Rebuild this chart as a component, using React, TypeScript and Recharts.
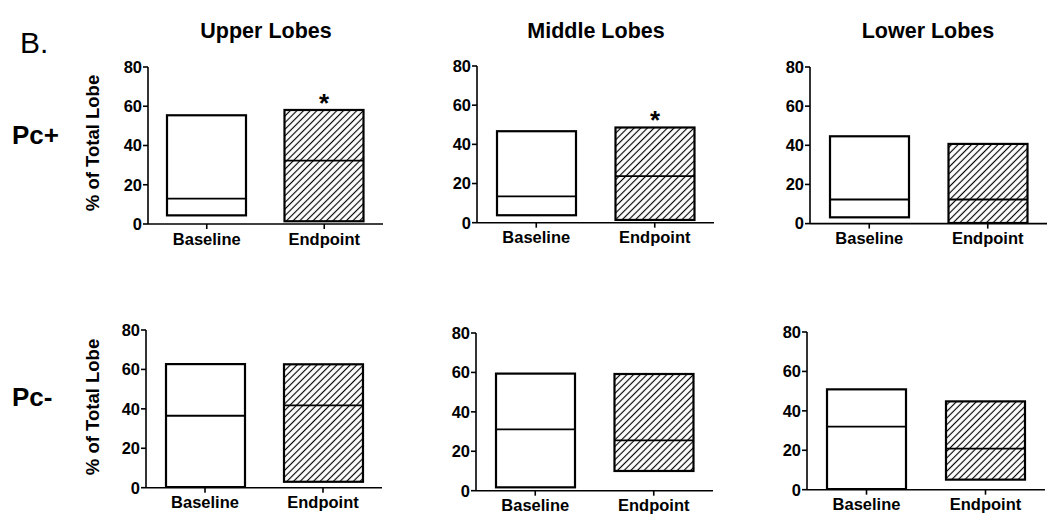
import React from 'react';
import { BarChart, Bar, XAxis, YAxis } from 'recharts';

const categories = ['Baseline', 'Endpoint'];
const columnTitles = ['Upper Lobes', 'Middle Lobes', 'Lower Lobes'];
const rowLabels = ['Pc+', 'Pc-'];
const yTicks = [0, 20, 40, 60, 80];
const yLabel = '% of Total Lobe';
const figureLabel = 'B.';

// Pc+ row
const upperPlusMin = [4.4, 1.4];
const upperPlusMedian = [12.9, 32.3];
const upperPlusMax = [55.4, 58.1];
const upperPlusSig = [false, true];

const middlePlusMin = [3.8, 1.4];
const middlePlusMedian = [13.4, 23.8];
const middlePlusMax = [46.7, 48.6];
const middlePlusSig = [false, true];

const lowerPlusMin = [3.2, 0.3];
const lowerPlusMedian = [12.3, 12.3];
const lowerPlusMax = [44.6, 40.7];
const lowerPlusSig = [false, false];

// Pc- row
const upperMinusMin = [0.3, 3.0];
const upperMinusMedian = [36.5, 41.8];
const upperMinusMax = [62.7, 62.6];
const upperMinusSig = [false, false];

const middleMinusMin = [1.7, 10.0];
const middleMinusMedian = [31.1, 25.5];
const middleMinusMax = [59.4, 59.2];
const middleMinusSig = [false, false];

const lowerMinusMin = [0.3, 5.1];
const lowerMinusMedian = [32.0, 20.8];
const lowerMinusMax = [50.9, 44.8];
const lowerMinusSig = [false, false];

const FONT = "'Liberation Sans', Arial, Helvetica, sans-serif";

type Row = { category: string; min: number; median: number; max: number; sig: boolean; hatched: boolean };

const buildRows = (mins: number[], meds: number[], maxs: number[], sig: boolean[]): Row[] =>
  categories.map((c, i) => ({
    category: c,
    min: mins[i],
    median: meds[i],
    max: maxs[i],
    sig: sig[i],
    hatched: i === 1,
  }));

const panels = [
  { id: 'p1', rows: buildRows(upperPlusMin, upperPlusMedian, upperPlusMax, upperPlusSig), plotLeft: 148, plotRight: 383, plotTop: 67, plotBottom: 224 },
  { id: 'p2', rows: buildRows(middlePlusMin, middlePlusMedian, middlePlusMax, middlePlusSig), plotLeft: 477, plotRight: 714, plotTop: 66, plotBottom: 222.7 },
  { id: 'p3', rows: buildRows(lowerPlusMin, lowerPlusMedian, lowerPlusMax, lowerPlusSig), plotLeft: 810, plotRight: 1047, plotTop: 66.7, plotBottom: 223.3 },
  { id: 'p4', rows: buildRows(upperMinusMin, upperMinusMedian, upperMinusMax, upperMinusSig), plotLeft: 146, plotRight: 382, plotTop: 330.3, plotBottom: 488 },
  { id: 'p5', rows: buildRows(middleMinusMin, middleMinusMedian, middleMinusMax, middleMinusSig), plotLeft: 476, plotRight: 713, plotTop: 333, plotBottom: 490.7 },
  { id: 'p6', rows: buildRows(lowerMinusMin, lowerMinusMedian, lowerMinusMax, lowerMinusSig), plotLeft: 807, plotRight: 1045, plotTop: 332.3, plotBottom: 490 },
];

const Y_AXIS_W = 50;
const M_TOP = 20;
const M_RIGHT = 5;
const X_AXIS_H = 35;

const makeShape = (panelId: string) => (props: any) => {
  const { x, y, width, height, payload } = props;
  if (x == null || y == null || !payload) return <g />;
  const { min, median, max, sig, hatched } = payload as Row;
  const medY = y + (height * (max - median)) / (max - min);
  const pid = `hatch-${panelId}`;
  return (
    <g>
      {hatched && (
        <defs>
          <pattern id={pid} patternUnits="userSpaceOnUse" width={4.7} height={4.7} patternTransform="rotate(45)">
            <rect width={4.7} height={4.7} fill="#fff" />
            <line x1={2.35} y1={-1} x2={2.35} y2={5.7} stroke="#000" strokeWidth={1.15} />
          </pattern>
        </defs>
      )}
      <rect x={x} y={y} width={width} height={height} fill={hatched ? `url(#${pid})` : '#fff'} stroke="#000" strokeWidth={2.2} />
      <line x1={x} y1={medY} x2={x + width} y2={medY} stroke="#000" strokeWidth={1.8} />
      {sig && (
        <text x={x + width / 2} y={y + 2} textAnchor="middle" fontFamily={FONT} fontWeight="bold" fontSize={26} fill="#000">
          *
        </text>
      )}
    </g>
  );
};

const tickStyle = { fontSize: 16.5, fontWeight: 'bold' as const, fill: '#000', fontFamily: FONT };

const Panel = ({ p }: { p: (typeof panels)[number] }) => {
  const width = Y_AXIS_W + (p.plotRight - p.plotLeft) + M_RIGHT;
  const height = M_TOP + (p.plotBottom - p.plotTop) + X_AXIS_H;
  return (
    <div style={{ position: 'absolute', left: p.plotLeft - Y_AXIS_W, top: p.plotTop - M_TOP, width, height }}>
      <BarChart width={width} height={height} data={p.rows} margin={{ top: M_TOP, right: M_RIGHT, bottom: 0, left: 0 }} barSize={79}>
        <XAxis
          dataKey="category"
          interval={0}
          height={X_AXIS_H}
          tickSize={5}
          tickMargin={4}
          tick={tickStyle}
          axisLine={{ stroke: '#000', strokeWidth: 1.6 }}
          tickLine={{ stroke: '#000', strokeWidth: 1.6 }}
        />
        <YAxis
          type="number"
          domain={[0, 80]}
          ticks={yTicks}
          interval={0}
          width={Y_AXIS_W}
          tickSize={5}
          tickMargin={1}
          tick={tickStyle}
          axisLine={{ stroke: '#000', strokeWidth: 1.6 }}
          tickLine={{ stroke: '#000', strokeWidth: 1.6 }}
          allowDataOverflow
        />
        <Bar dataKey={(d: Row) => [d.min, d.max]} isAnimationActive={false} shape={makeShape(p.id)} />
      </BarChart>
    </div>
  );
};

const titleCenters = [266, 596, 928];
const rowLabelBaselines = [144, 406];
const yLabelCenters = [143, 407];

export default function App() {
  return (
    <div style={{ position: 'absolute', left: 0, top: 0, width: 1050, height: 522, background: '#fff', overflow: 'hidden' }}>
      <svg width={1050} height={522} style={{ position: 'absolute', left: 0, top: 0 }}>
        <text x={20} y={53} fontFamily={FONT} fontSize={30} fill="#000">
          {figureLabel}
        </text>
        {columnTitles.map((t, i) => (
          <text key={t} x={titleCenters[i]} y={38} textAnchor="middle" fontFamily={FONT} fontWeight="bold" fontSize={21.5} fill="#000">
            {t}
          </text>
        ))}
        {rowLabels.map((t, i) => (
          <text key={t} x={12} y={rowLabelBaselines[i]} fontFamily={FONT} fontWeight="bold" fontSize={26} fill="#000">
            {t}
          </text>
        ))}
        {yLabelCenters.map((c, i) => (
          <text
            key={i}
            x={99}
            y={c}
            transform={`rotate(-90 99 ${c})`}
            textAnchor="middle"
            fontFamily={FONT}
            fontWeight="bold"
            fontSize={18.5}
            fill="#000"
          >
            {yLabel}
          </text>
        ))}
      </svg>
      {panels.map((p) => (
        <Panel key={p.id} p={p} />
      ))}
    </div>
  );
}
